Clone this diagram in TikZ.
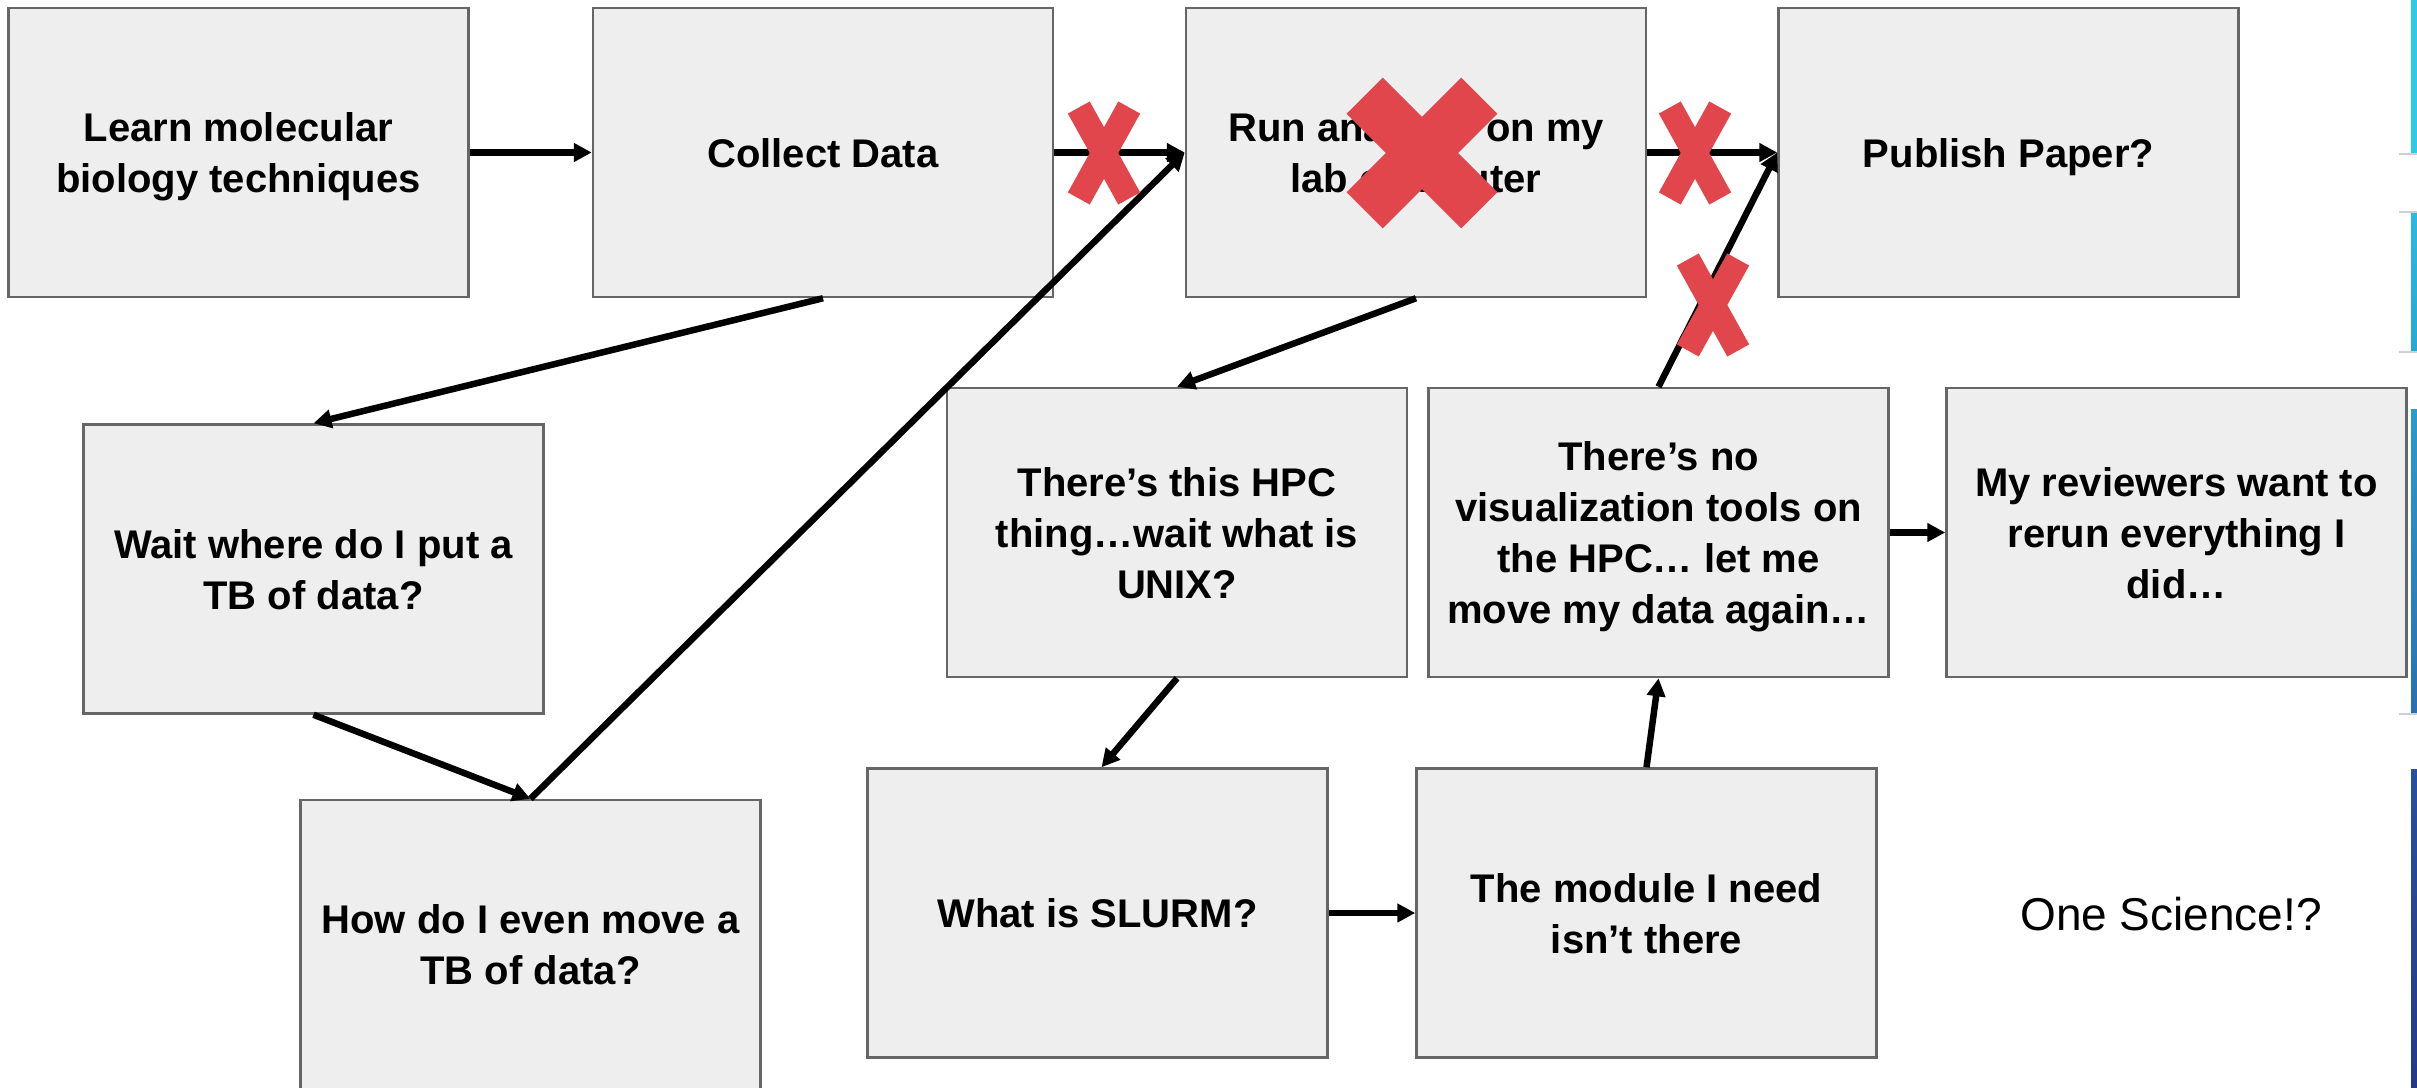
\documentclass[tikz,border=0pt]{standalone}
\usepackage{fontspec}
\setmainfont{Liberation Sans}
\usetikzlibrary{arrows.meta}

\definecolor{boxfill}{HTML}{EEEEEE}
\definecolor{boxline}{HTML}{666666}
\definecolor{xred}{HTML}{E0464B}
\definecolor{stripA}{HTML}{2ECBE9}
\definecolor{stripBt}{HTML}{2BB9DF}
\definecolor{stripBb}{HTML}{27A8D3}
\definecolor{stripCt}{HTML}{2A9BCB}
\definecolor{stripCb}{HTML}{2A6FB1}
\definecolor{stripDt}{HTML}{2850A0}
\definecolor{stripDb}{HTML}{253888}
\definecolor{rulegray}{HTML}{D0D0D0}

\tikzset{
  stepbox/.style={draw=boxline, line width=2.5pt, fill=boxfill,
    minimum width=460pt, minimum height=289pt, inner sep=0pt,
    label={[steptext]center:#1}},
  steptext/.style={inner sep=0pt, align=center, yshift=-4.6pt,
    font=\bfseries\fontsize{40}{51}\selectfont,
    execute at end node={\vphantom{g}}},
  flow/.style={draw=black, line width=6.5pt,
    -{Triangle[length=18pt,width=18pt]}},
  smallx/.pic={
    \fill[xred, rotate=61] (-52,-12.5) rectangle (52,12.5);
    \fill[xred, rotate=-61] (-52,-12.5) rectangle (52,12.5);
  },
  bigx/.pic={
    \fill[xred, rotate=45] (-81,-25.5) rectangle (81,25.5);
    \fill[xred, rotate=-45] (-81,-25.5) rectangle (81,25.5);
  },
}

\begin{document}
\begin{tikzpicture}[x=1pt, y=-1pt]
  \clip (0,0) rectangle (2417,1087);
  \fill[white] (0,0) rectangle (2417,1087);

  % steps of the workflow
  \node[stepbox={Learn molecular\\biology techniques}] (learn) at (238.5,152.5) {};
  \node[stepbox={Collect Data}] (collect) at (823,152.5) {};
  \node[stepbox={Run analysis on my\\lab computer}] (run) at (1416,152.5) {};
  \node[stepbox={Publish Paper?}] (publish) at (2008.5,152.5) {};
  \node[stepbox={Wait where do I put a\\TB of data?}] (where) at (313.5,569) {};
  \node[stepbox={How do I even move a\\TB of data?}] (move) at (530.5,944.5) {};
  \node[stepbox={There’s this HPC\\thing…wait what is\\UNIX?}] (hpc) at (1177,532.5) {};
  \node[stepbox={There’s no\\visualization tools on\\the HPC… let me\\move my data again…}] (vis) at (1658.5,532.5) {};
  \node[stepbox={My reviewers want to\\rerun everything I\\did…}] (review) at (2176.5,532.5) {};
  \node[stepbox={What is SLURM?}] (slurm) at (1097.5,913) {};
  \node[stepbox={The module I need\\isn’t there}] (module) at (1646.5,913) {};

  \node[anchor=base west, inner sep=0pt, font=\fontsize{46}{55}\selectfont]
    (science) at (2020,930) {One Science!?};

  % connectors
  \draw[flow] (learn.east) -- (collect.west);
  \draw[flow] (collect.east) -- (run.west);
  \draw[flow] (run.east) -- (publish.west);
  \draw[flow] (collect.south) -- (where.north);
  \draw[flow] (where.south) -- (move.north);
  \draw[flow] (move.north) -- (run.west);
  \draw[flow] (run.south) -- (hpc.north);
  \draw[flow] (hpc.south) -- ([xshift=4pt]slurm.north);
  \draw[flow] (slurm.east) -- (module.west);
  \draw[flow] (module.north) -- (vis.south);
  \draw[flow] (vis.north) -- (publish.west);
  \draw[flow] (vis.east) -- (review.west);

  % crossed-out paths
  \pic at (1104,153) {smallx};
  \pic at (1695,153) {smallx};
  \pic at (1713,305) {smallx};
  \pic at (1422,153) {bigx};

  % coloured edge strips
  \fill[stripA] (2411,0) rectangle (2417,154);
  \shade[top color=stripBt, bottom color=stripBb] (2411,212) rectangle (2417,352);
  \shade[top color=stripCt, bottom color=stripCb] (2411,409) rectangle (2417,714);
  \shade[top color=stripDt, bottom color=stripDb] (2411,769) rectangle (2417,1087);
  \foreach \yy in {154,212,352,714}
    \draw[rulegray, line width=1.2pt] (2399,\yy) -- (2417,\yy);
\end{tikzpicture}
\end{document}
